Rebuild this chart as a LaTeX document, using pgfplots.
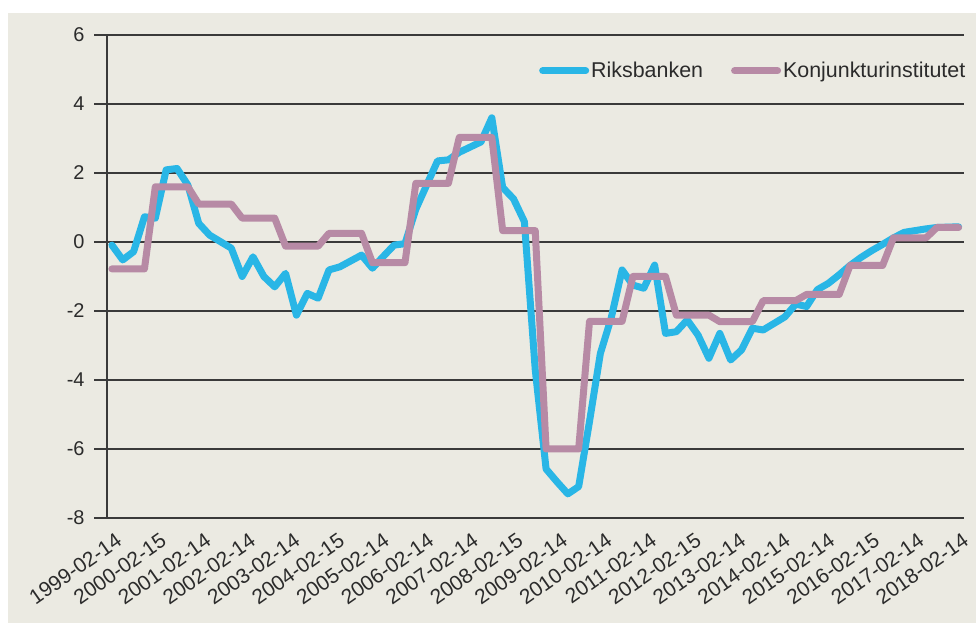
\documentclass[border=0pt]{standalone}
\usepackage{fontspec}
\setmainfont{Liberation Sans}
\usepackage{pgfplots}
\usepackage{pgfplotstable}
\pgfplotsset{compat=1.18}
\definecolor{bg}{HTML}{EBEAE2}
\definecolor{rb}{HTML}{29B6E6}
\definecolor{ki}{HTML}{B78AA5}
\definecolor{gridc}{HTML}{3A3A3A}
\definecolor{txt}{HTML}{2B2B2B}

\pgfplotstableread{
i rb ki
0 -0.09 -0.78
1 -0.52 -0.78
2 -0.28 -0.78
3 0.73 -0.78
4 0.69 1.60
5 2.09 1.60
6 2.13 1.60
7 1.65 1.60
8 0.54 1.10
9 0.20 1.10
10 0.01 1.10
11 -0.18 1.10
12 -1.00 0.69
13 -0.43 0.69
14 -1.00 0.69
15 -1.30 0.69
16 -0.91 -0.12
17 -2.12 -0.12
18 -1.49 -0.12
19 -1.63 -0.12
20 -0.81 0.25
21 -0.72 0.25
22 -0.55 0.25
23 -0.38 0.25
24 -0.76 -0.60
25 -0.42 -0.60
26 -0.09 -0.60
27 -0.05 -0.60
28 0.95 1.70
29 1.65 1.70
30 2.35 1.70
31 2.38 1.70
32 2.60 3.03
33 2.75 3.03
34 2.90 3.03
35 3.60 3.03
36 1.58 0.33
37 1.25 0.33
38 0.59 0.33
39 -3.70 0.33
40 -6.58 -6.00
41 -6.95 -6.00
42 -7.30 -6.00
43 -7.09 -6.00
44 -5.20 -2.30
45 -3.23 -2.30
46 -2.20 -2.30
47 -0.81 -2.30
48 -1.25 -1.00
49 -1.34 -1.00
50 -0.67 -1.00
51 -2.65 -1.00
52 -2.60 -2.12
53 -2.26 -2.12
54 -2.70 -2.12
55 -3.37 -2.12
56 -2.65 -2.31
57 -3.42 -2.31
58 -3.13 -2.31
59 -2.50 -2.31
60 -2.55 -1.70
61 -2.36 -1.70
62 -2.17 -1.70
63 -1.80 -1.70
64 -1.87 -1.52
65 -1.38 -1.52
66 -1.20 -1.52
67 -0.95 -1.52
68 -0.68 -0.68
69 -0.45 -0.68
70 -0.25 -0.68
71 -0.07 -0.68
72 0.12 0.12
73 0.28 0.12
74 0.33 0.12
75 0.38 0.12
76 0.42 0.42
77 0.43 0.42
78 0.44 0.42
}\data

\begin{document}
\begin{tikzpicture}[x=1bp,y=1bp]
\useasboundingbox (0,0) rectangle (976,623);
\fill[bg] (8,0) rectangle (976,610);
\begin{axis}[
  at={(107bp,105bp)}, anchor=south west,
  scale only axis, width=857bp, height=483bp,
  xmin=-0.45, xmax=78.5, ymin=-8, ymax=6,
  axis x line*=bottom, axis y line*=left,
  axis line style={draw=gridc, line width=1.1bp},
  ytick={-8,-6,-4,-2,0,2,4,6},
  yticklabels={-8,-6,-4,-2,0,2,4,6},
  ymajorgrids, major grid style={draw=gridc, line width=1.1bp},
  tick align=outside,
  y tick style={draw=gridc, line width=1.1bp},
  major tick length=13bp,
  x tick style={draw=none},
  xtick={0,4.1053,8.2105,12.3158,16.4211,20.5263,24.6316,28.7368,32.8421,36.9474,41.0526,45.1579,49.2632,53.3684,57.4737,61.5789,65.6842,69.7895,73.8947,78},
  xticklabels={1999-02-14,2000-02-15,2001-02-14,2002-02-14,2003-02-14,2004-02-15,2005-02-14,2006-02-14,2007-02-14,2008-02-15,2009-02-14,2010-02-14,2011-02-14,2012-02-15,2013-02-14,2014-02-14,2015-02-14,2016-02-15,2017-02-14,2018-02-14},
  xticklabel style={rotate=35, anchor=east, inner sep=1bp, font=\fontsize{21}{25}\selectfont, text=txt, yshift=-10bp, xshift=3bp},
  yticklabel style={font=\fontsize{20}{24}\selectfont, text=txt, xshift=-6bp},
  legend style={at={(axis description cs:1.004,0.926)}, anchor=east, draw=none, fill=none, inner sep=0pt,
    font=\fontsize{21.5}{25}\selectfont, text=txt, cells={anchor=west},
    /tikz/every even column/.append style={column sep=26bp}},
  legend columns=2,
  legend image code/.code={\draw[#1, line cap=round] (0bp,0bp) -- (43bp,0bp);},
  clip=false,
]
\addplot[rb, line width=7bp, line join=round, line cap=round] table[x=i, y=rb] {\data};
\addlegendentry{Riksbanken}
\addplot[ki, line width=7bp, line join=round, line cap=round] table[x=i, y=ki] {\data};
\addlegendentry{Konjunkturinstitutet}
\end{axis}
\end{tikzpicture}
\end{document}
